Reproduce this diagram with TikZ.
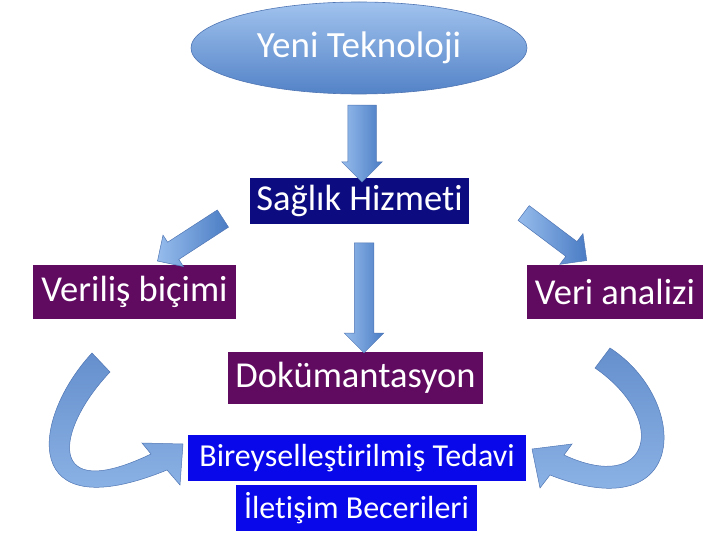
\documentclass[tikz,border=0pt]{standalone}
\usepackage{fontspec}
\setmainfont{Carlito}[Ligatures=NoCommon]
\usepackage{tikz}
\usetikzlibrary{shapes.geometric,shapes.arrows}

\definecolor{navybox}{RGB}{12,12,128}
\definecolor{plumbox}{RGB}{96,10,96}
\definecolor{bluebox}{RGB}{8,8,235}
\definecolor{arrowlight}{RGB}{150,188,236}
\definecolor{arrowdark}{RGB}{74,124,196}
\definecolor{arrowline}{RGB}{80,118,180}

\begin{document}
\begin{tikzpicture}[x=1pt, y=-1pt,
  box/.style={rectangle, inner sep=0pt, text=white, font=\fontsize{36.5}{40}\selectfont},
  smallbox/.style={box, fill=bluebox, minimum height=46pt, font=\fontsize{32}{36}\selectfont},
  fatarrow/.style={single arrow, draw=arrowline, line width=0.5pt, left color=arrowlight, right color=arrowdark, inner xsep=0pt, single arrow tip angle=90},
  bentarrow/.style={draw=arrowline, line width=0.5pt, top color=arrowdark!85!white, bottom color=arrowlight}
]
  \useasboundingbox (0,0) rectangle (720,540);

  \node[ellipse, draw=arrowline, line width=0.6pt, top color=arrowlight!90!white, bottom color=arrowdark!95!white, minimum width=336pt, minimum height=92pt, inner sep=0pt, text=white, font=\fontsize{37}{40}\selectfont] (yeni) at (359,48) {Yeni Teknoloji};

  \node[box, fill=navybox, minimum width=219pt, minimum height=46pt] (saglik) at (359.5,201) {Sağlık Hizmeti};
  \node[box, fill=plumbox, minimum width=203pt, minimum height=54pt] (verilis) at (134.5,292) {Veriliş biçimi};
  \node[box, fill=plumbox, minimum width=176pt, minimum height=54pt] (analiz) at (615,292) {Veri analizi};
  \node[box, fill=plumbox, minimum width=255pt, minimum height=52pt] (dokuman) at (355.5,378) {Dokümantasyon};
  \node[smallbox, minimum width=338pt] (tedavi) at (357,458) {Bireyselleştirilmiş Tedavi};
  \node[smallbox, minimum width=241pt] (iletisim) at (356.5,508) {İletişim Becerileri};

  % block arrows
  \node[fatarrow, rotate=-90, minimum height=77pt, inner ysep=14pt, single arrow head extend=6pt] (down1) at (362,136.5) {};
  \node[fatarrow, rotate=-90, minimum height=110pt, inner ysep=9.5pt, single arrow head extend=10pt] (down2) at (364,293) {};
  \node[fatarrow, rotate=213, minimum height=78pt, inner ysep=10pt, single arrow head extend=8.5pt] (toleft) at (194.5,237) {};
  \node[fatarrow, rotate=-37, minimum height=79pt, inner ysep=9pt, single arrow head extend=10pt] (toright) at (551.5,234) {};

  % curved arrows
  \path[bentarrow] (92,353) .. controls (30,420) and (20,530) .. (167,470)
    -- (180,485) -- (183,444) -- (142,443) -- (151,454)
    .. controls (45,505) and (55,430) .. (110,372) -- cycle;
  \path[bentarrow] (610,348) .. controls (690,400) and (690,530) .. (550,475)
    -- (540,488) -- (532,449) -- (572,444) -- (564,455)
    .. controls (650,495) and (670,420) .. (595,368) -- cycle;
\end{tikzpicture}
\end{document}
